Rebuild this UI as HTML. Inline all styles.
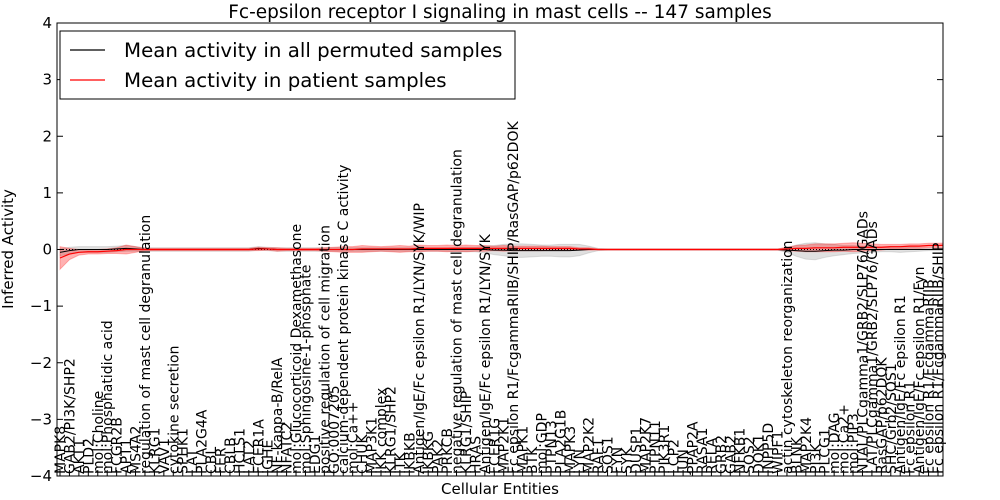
<!DOCTYPE html>
<html><head><meta charset="utf-8"><style>
body{margin:0;background:#fff;}
svg{display:block;font-family:"DejaVu Sans","Liberation Sans",sans-serif;}
</style></head><body>
<svg id="chart" width="1000" height="500" viewBox="0 0 1000 500" xmlns="http://www.w3.org/2000/svg">
<defs><clipPath id="pc"><rect x="57" y="23" width="886" height="453"/></clipPath></defs>
<rect width="1000" height="500" fill="#fff"/>
<text x="500" y="18" font-size="18.5" text-anchor="middle">Fc-epsilon receptor I signaling in mast cells -- 147 samples</text>
<text transform="translate(13,249) rotate(-90)" font-size="15" text-anchor="middle">Inferred Activity</text>
<text x="500" y="494" font-size="15" text-anchor="middle">Cellular Entities</text>
<g id="bands" clip-path="url(#pc)"></g><g id="lines" clip-path="url(#pc)"></g><g id="xlabels"></g><g id="yticks"></g>
<rect x="57" y="23" width="886" height="453" fill="none" stroke="#000" stroke-width="1"/>
<g>
<rect x="60" y="31" width="455" height="68" fill="#fff" stroke="#000"/>
<line x1="70" y1="50" x2="105" y2="50" stroke="#000" stroke-width="1.2"/>
<text x="124" y="57" font-size="19.8">Mean activity in all permuted samples</text>
<line x1="70" y1="80" x2="105" y2="80" stroke="#f00" stroke-width="1.2"/>
<text x="124" y="87" font-size="19.8">Mean activity in patient samples</text>
</g>
</svg>
<script>
const labels=["MAPK8","GAB2/PI3K/SHP2","AKT1","PLD2","mol:Choline","mol:Phosphatidic acid","FCGR2B","APT1","MS4A2","regulation of mast cell degranulation","KLRG1","VAV1","cytokine secretion","SPHK1","LAT","PLA2G4A","CBL","FER","CBLB","HCLS1","LAT2","FCER1A","IGHE","NF-kappa-B/RelA","NFATC2","mol:Glucocorticoid Dexamethasone","mol:Sphingosine-1-phosphate","EDG1","positive regulation of cell migration","GO:0007205","calcium-dependent protein kinase C activity","mol:Ca++","CHUK","MAP3K1","IKK complex","KLRG1/SHP2","ITK","IKBKB","Antigen/IgE/Fc epsilon R1/LYN/SYK/WIP","IKBKG","PAK2","PRKCB","negative regulation of mast cell degranulation","KLRG1/SHIP","HRAS","Antigen/IgE/Fc epsilon R1/LYN/SYK","FCER1G","MAP2K1","Fc epsilon R1/FcgammaRIIB/SHIP/RasGAP/p62DOK","MAPK1","BTK","mol:GDP","PTPN13","PLA2G1B","MAPK3","LYN","MAP2K2","RAF1","SOS1","FYN","SYK","DUSP1","MAP2K7","PTPN11","PIK3R1","LCP2","JUN","PPAP2A","RASA1","RELA","GRB2","GAB2","NFKB1","SOS2","DOK1","INPP5D","WIPF1","actin cytoskeleton reorganization","BLNK","MAP2K4","PI3K","PLCG1","mol:DAG","mol:Ca2+","mol:PIP3","NTAL/PLCgamma1/GRB2/SLP76/GADs","LAT/PLCgamma1/GRB2/SLP76/GADs","RasGAP/p62DOK","SHC/Grb2/SOS1","Antigen/IgE/Fc epsilon R1","Fc epsilon R1","Antigen/IgE/Fc epsilon R1/Fyn","Fc epsilon R1/FcgammaRIIB","Fc epsilon R1/FcgammaRIIB/SHIP"];
const yTicks=[-4,-3,-2,-1,0,1,2,3,4];
const patientMean=[-0.15,-0.08,-0.05,-0.04,-0.04,-0.03,-0.02,0.0,0.0,0.0,0,0,0,0,0,0,0,0,0,0,0,0.01,0.01,0,0,0,0,0,0,0,0,0,0.01,0.01,0.01,0.01,0.01,0.01,0.02,0.02,0.02,0.02,0.02,0.02,0.02,0.02,0.02,0.02,0.02,0.02,0.02,0.02,0.02,0.02,0.02,0.01,0.01,0,0,0,0,0,0,0,0,0,0,0,0,0,0,0,0,0,0,0,0,0.01,0.02,0.02,0.03,0.03,0.03,0.04,0.04,0.04,0.04,0.04,0.05,0.05,0.06,0.06,0.07,0.07,0.08];
const patientBand=[0.2,0.1,0.05,0.04,0.04,0.04,0.05,0.08,0.05,0.02,0.02,0.02,0.02,0.02,0.02,0.02,0.02,0.02,0.02,0.02,0.02,0.03,0.02,0.03,0.02,0.02,0.02,0.02,0.03,0.04,0.05,0.05,0.06,0.05,0.04,0.05,0.06,0.05,0.06,0.05,0.05,0.06,0.05,0.06,0.05,0.05,0.04,0.05,0.04,0.04,0.04,0.04,0.03,0.03,0.03,0.02,0.02,0.01,0.01,0.01,0.01,0.01,0.01,0.01,0.01,0.01,0.01,0.01,0.01,0.01,0.01,0.01,0.01,0.01,0.01,0.01,0.01,0.03,0.05,0.06,0.07,0.07,0.07,0.07,0.08,0.07,0.06,0.05,0.04,0.04,0.04,0.04,0.04,0.04,0.04];
const permMean=[-0.05,-0.02,0,0,0,0,0.01,0.02,0.01,0,0,0,0,0,0,0,0,0,0,0,0,0.02,0.01,0,0,0,0,0,0,0,0,0,0,0,0,0,0,0,0,0,0,0,0,0,0,0,-0.01,-0.01,-0.02,-0.02,-0.02,-0.02,-0.02,-0.02,-0.02,-0.01,0,0,0,0,0,0,0,0,0,0,0,0,0,0,0,0,0,0,0,0,0,-0.01,-0.02,-0.03,-0.03,-0.02,-0.01,-0.01,0,0,0,0,0,0,0,0,0,0,0];
const permBand=[0.06,0.06,0.05,0.05,0.05,0.05,0.05,0.05,0.04,0.03,0.03,0.03,0.03,0.03,0.03,0.03,0.03,0.03,0.03,0.03,0.03,0.03,0.03,0.03,0.03,0.03,0.03,0.03,0.03,0.03,0.03,0.03,0.03,0.03,0.03,0.03,0.03,0.03,0.03,0.03,0.03,0.03,0.04,0.04,0.04,0.06,0.08,0.1,0.12,0.12,0.11,0.1,0.1,0.11,0.11,0.1,0.06,0.02,0.01,0.01,0.01,0.01,0.01,0.01,0.01,0.01,0.01,0.01,0.01,0.01,0.01,0.01,0.01,0.01,0.01,0.01,0.01,0.04,0.1,0.14,0.15,0.12,0.1,0.08,0.07,0.06,0.05,0.04,0.04,0.05,0.04,0.03,0.02,0.02,0.02];
const NS='http://www.w3.org/2000/svg';
const X0=60,X1=938,Y0=23,Y1=476;
function xs(i){return X0+i*(X1-X0)/(labels.length-1);}
function ys(v){return Y1-(v+4)*(Y1-Y0)/8;}
function mk(tag,attrs,parent){const e=document.createElementNS(NS,tag);for(const k in attrs)e.setAttribute(k,attrs[k]);parent.appendChild(e);return e;}
const bands=document.getElementById('bands'),lines=document.getElementById('lines');
function bandPath(m,b){let up=m.map((v,i)=>xs(i)+','+ys(v+b[i]));let dn=m.map((v,i)=>xs(i)+','+ys(v-b[i])).reverse();return 'M'+up.join('L')+'L'+dn.join('L')+'Z';}
let g1=mk('path',{d:bandPath(permMean,permBand),fill:'#999','fill-opacity':0.3,stroke:'#999','stroke-opacity':0.3},bands);


let r1=mk('path',{d:bandPath(patientMean,patientBand),fill:'#f00','fill-opacity':0.3,stroke:'#f00','stroke-opacity':0.25},bands);


let zl=mk('line',{x1:57,x2:943,y1:ys(0),y2:ys(0),stroke:'#000','stroke-dasharray':'1,2'},lines);


let pl=mk('path',{d:'M'+permMean.map((v,i)=>xs(i)+','+ys(v)).join('L'),fill:'none',stroke:'#000','stroke-width':1},lines);


let rl=mk('path',{d:'M'+patientMean.map((v,i)=>xs(i)+','+ys(v)).join('L'),fill:'none',stroke:'#f00','stroke-width':1.2},lines);


const yt=document.getElementById('yticks');
yTicks.forEach(t=>{const y=ys(t);
 let a=mk('line',{x1:57,x2:63,y1:y,y2:y,stroke:'#000'},yt);
 let b=mk('line',{x1:937,x2:943,y1:y,y2:y,stroke:'#000'},yt);
 let tx=mk('text',{x:52,y:y+5,'font-size':15,'text-anchor':'end'},yt);tx.textContent=(t<0?'\u2212'+(-t):t);
 
 
});
const xl=document.getElementById('xlabels');
labels.forEach((l,i)=>{const x=xs(i);
 let tk=mk('line',{x1:x,x2:x,y1:476,y2:470,stroke:'#000'},xl);
 let t=mk('text',{transform:'translate('+(x+5)+',474) rotate(-90)','font-size':14},xl);t.textContent=l;
 
 
});
</script>
</body></html>
